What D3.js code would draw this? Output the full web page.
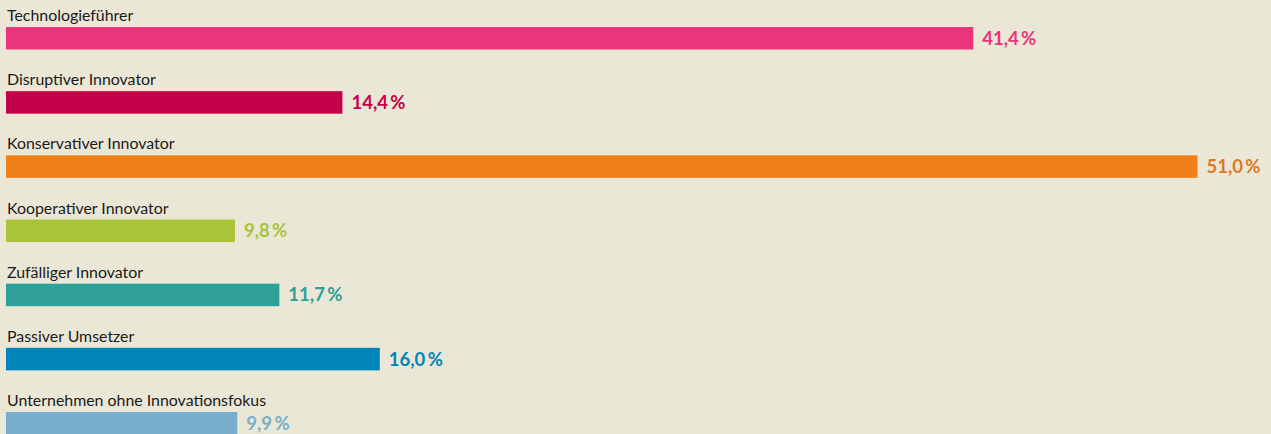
<!DOCTYPE html>
<meta charset="utf-8">
<html>
<head>
    <style>
        body { margin: 0; background: #ebe7d6; }
        svg { display: block; font-family: Lato, sans-serif; }
        .label { font-size: 15.9px; fill: #1a1a1a; }
        .value { font-size: 18.5px; font-weight: bold; }
    </style>
    <script src="https://d3js.org/d3.v7.min.js"></script>
</head>
<body>
<svg id="svg" width="1271" height="434"></svg>
<script>

    var categories = ["Technologieführer", "Disruptiver Innovator", "Konservativer Innovator",
        "Kooperativer Innovator", "Zufälliger Innovator", "Passiver Umsetzer",
        "Unternehmen ohne Innovationsfokus"];
    var values = [41.4, 14.4, 51.0, 9.8, 11.7, 16.0, 9.9];
    var colors = ["#ec347c", "#c4004a", "#f08119", "#a9c43a", "#2f9f99", "#0085b8", "#78aecb"];
    var valueColors = ["#e8347c", "#c4004a", "#dc7a1e", "#a9c43a", "#2f9f99", "#0085b8", "#78aecb"];

    var svg = d3.select("svg"),
        left = 6,
        barH = 22.5;

    var x = d3.scaleLinear()
        .domain([0, 51])
        .range([0, 1191.5]);

    var y = d3.scaleBand()
        .domain(categories)
        .range([27, 27 + 64.17 * categories.length]);

    var rows = categories.map(function (c, i) {
        return {name: c, value: values[i], color: colors[i], textColor: valueColors[i]};
    });

    var row = svg.selectAll(".row")
        .data(rows)
        .enter().append("g")
        .attr("class", "row")
        .attr("transform", function (d) {
            return "translate(" + left + "," + y(d.name) + ")";
        });

    row.append("text")
        .attr("class", "label")
        .attr("x", 1)
        .attr("y", -6)
        .text(function (d) { return d.name; });

    row.append("rect")
        .attr("width", function (d) { return x(d.value); })
        .attr("height", barH)
        .attr("fill", function (d) { return d.color; });

    row.append("text")
        .attr("class", "value")
        .attr("x", function (d) { return x(d.value) + 9; })
        .attr("y", barH / 2 + 6.5)
        .attr("fill", function (d) { return d.textColor; })
        .text(function (d) { return d.value.toFixed(1).replace(".", ",") + "\u2009%"; });

</script>
</body>
</html>
